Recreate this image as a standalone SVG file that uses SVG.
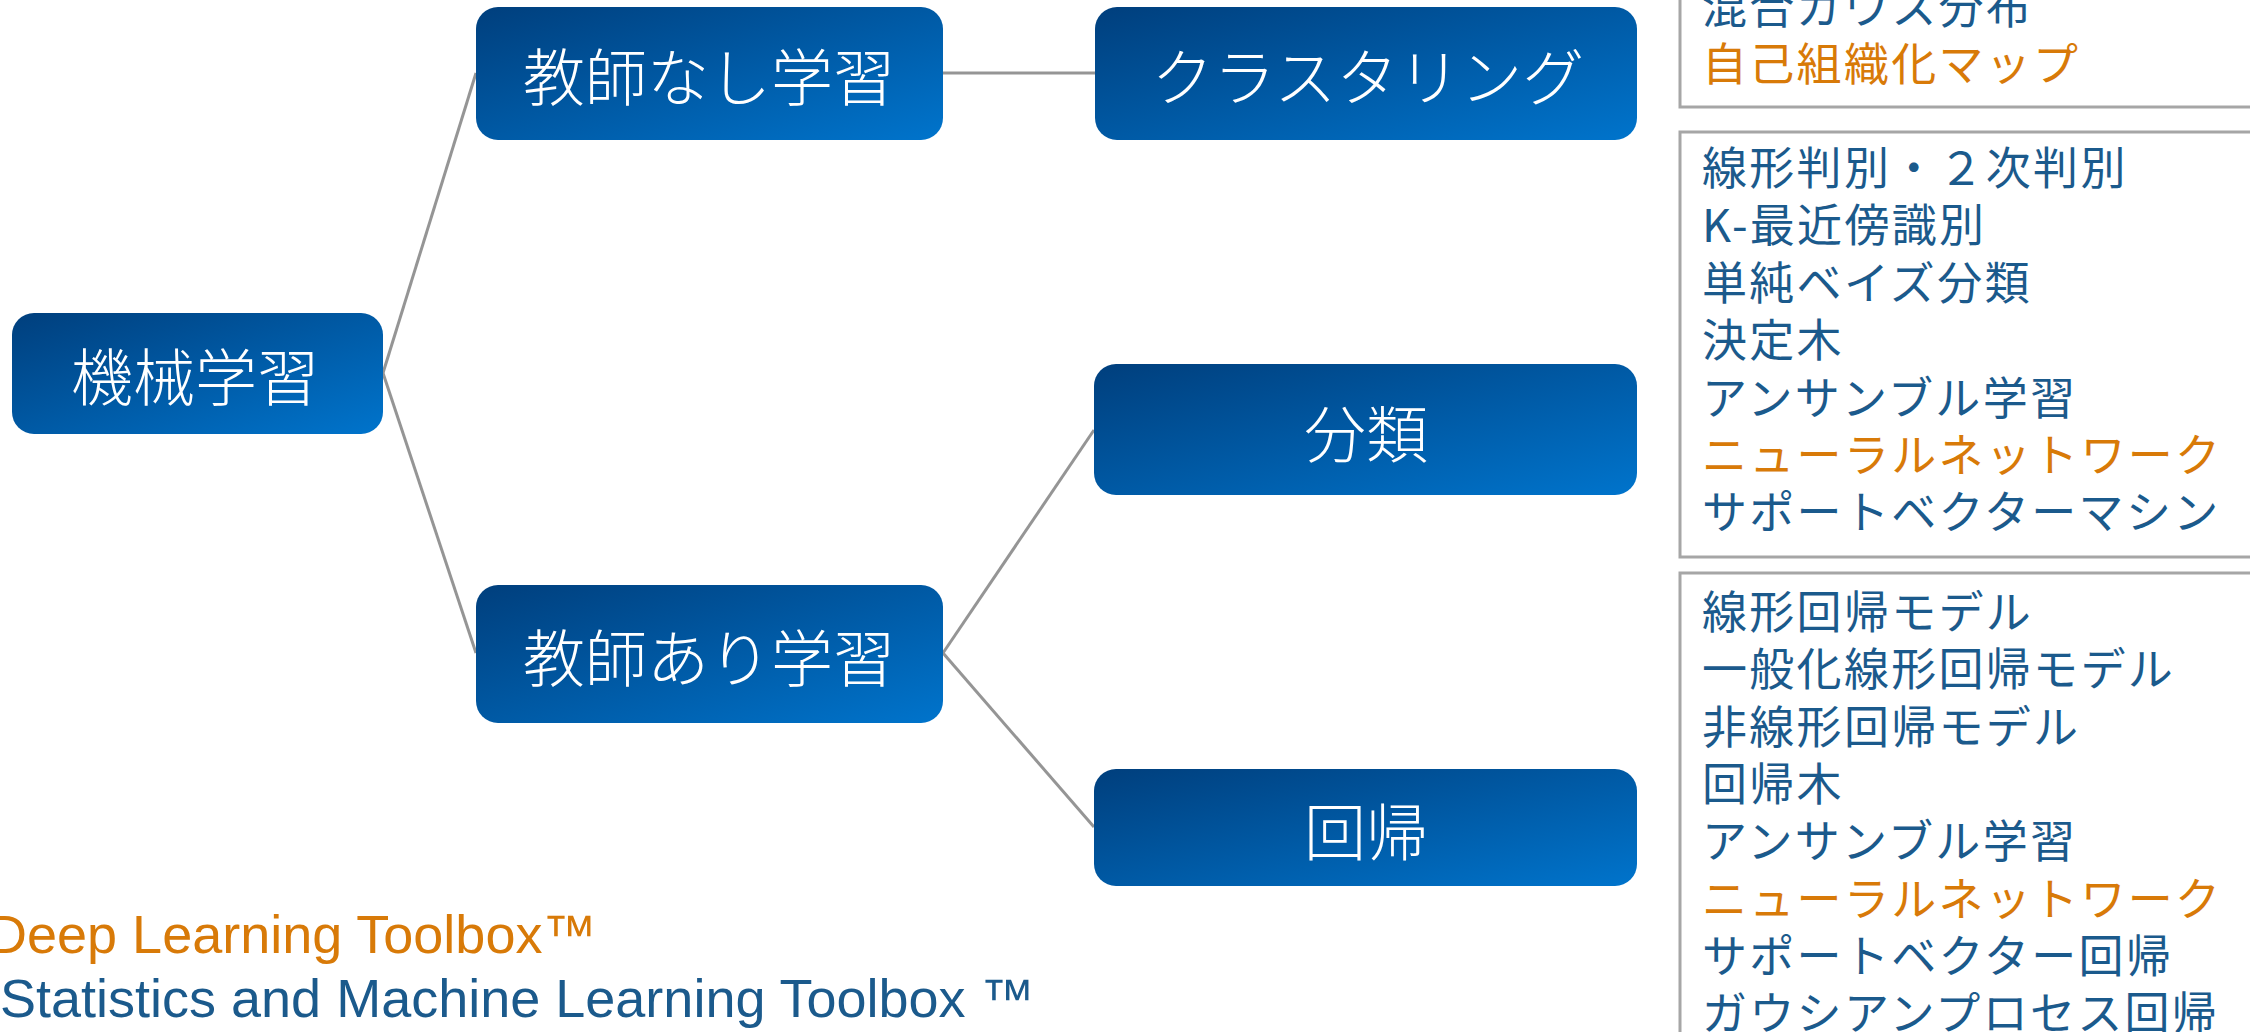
<svg xmlns="http://www.w3.org/2000/svg" width="2250" height="1032" viewBox="0 0 2250 1032">
  <defs>
    <linearGradient id="nodeGrad" x1="0" y1="0" x2="1" y2="1">
      <stop offset="0" stop-color="#003F7D"/>
      <stop offset="1" stop-color="#0074CC"/>
    </linearGradient>
    <style>
      .node rect { fill: url(#nodeGrad); }
      .node text { fill: #FFFFFF; font-family: "Noto Sans CJK JP", "Noto Sans", sans-serif; font-size: 62px; font-weight: 300; text-anchor: middle; dominant-baseline: central; }
      .conn { stroke: #959595; stroke-width: 3; fill: none; }
      .listbox { fill: #FFFFFF; stroke: #A6A6A6; stroke-width: 3; }
      .list { font-family: "Noto Sans CJK JP", "Noto Sans", sans-serif; font-size: 45px; letter-spacing: 2.3px; fill: #1B5A8C; }
      .hl { fill: #D87A08; }
      .legend { font-family: "Liberation Sans", "Noto Sans CJK JP", sans-serif; font-size: 54px; }
    </style>
  </defs>
  <rect x="0" y="0" width="2250" height="1032" fill="#FFFFFF"/>

  <g id="connectors">
    <path class="conn" d="M383,373 L476,73"/>
    <path class="conn" d="M383,373 L476,653"/>
    <path class="conn" d="M943,73 L1095,73"/>
    <path class="conn" d="M943,653 L1094,430"/>
    <path class="conn" d="M943,653 L1094,827"/>
  </g>

  <g id="node-ml" class="node">
    <rect x="12" y="313" width="371" height="121" rx="22"/>
    <text x="195" y="374">機械学習</text>
  </g>
  <g id="node-unsupervised" class="node">
    <rect x="476" y="7" width="467" height="133" rx="22"/>
    <text x="709" y="74">教師なし学習</text>
  </g>
  <g id="node-supervised" class="node">
    <rect x="476" y="585" width="467" height="138" rx="22"/>
    <text x="709" y="655">教師あり学習</text>
  </g>
  <g id="node-clustering" class="node">
    <rect x="1095" y="7" width="542" height="133" rx="22"/>
    <text x="1368" y="74">クラスタリング</text>
  </g>
  <g id="node-classification" class="node">
    <rect x="1094" y="364" width="543" height="131" rx="22"/>
    <text x="1366" y="431">分類</text>
  </g>
  <g id="node-regression" class="node">
    <rect x="1094" y="769" width="543" height="117" rx="22"/>
    <text x="1366" y="829">回帰</text>
  </g>

  <g id="list-clustering">
    <rect class="listbox" x="1680" y="-20" width="600" height="127"/>
    <text class="list" x="1702" y="24">混合ガウス分布</text>
    <text class="list hl" x="1702" y="81">自己組織化マップ</text>
  </g>
  <g id="list-classification">
    <rect class="listbox" x="1680" y="132" width="600" height="425"/>
    <text class="list" x="1702" y="185">線形判別・２次判別</text>
    <text class="list" x="1702" y="242">K-最近傍識別</text>
    <text class="list" x="1702" y="300">単純ベイズ分類</text>
    <text class="list" x="1702" y="357">決定木</text>
    <text class="list" x="1702" y="415">アンサンブル学習</text>
    <text class="list hl" x="1702" y="472">ニューラルネットワーク</text>
    <text class="list" x="1702" y="529">サポートベクターマシン</text>
  </g>
  <g id="list-regression">
    <rect class="listbox" x="1680" y="573" width="600" height="500"/>
    <text class="list" x="1702" y="629">線形回帰モデル</text>
    <text class="list" x="1702" y="686">一般化線形回帰モデル</text>
    <text class="list" x="1702" y="744">非線形回帰モデル</text>
    <text class="list" x="1702" y="801">回帰木</text>
    <text class="list" x="1702" y="858">アンサンブル学習</text>
    <text class="list hl" x="1702" y="916">ニューラルネットワーク</text>
    <text class="list" x="1702" y="973">サポートベクター回帰</text>
    <text class="list" x="1702" y="1030">ガウシアンプロセス回帰</text>
  </g>

  <g id="legend">
    <text class="legend" x="-12" y="953" fill="#D87A08">Deep Learning Toolbox™</text>
    <text class="legend" x="0" y="1017" fill="#1B5A8C">Statistics and Machine Learning Toolbox ™</text>
  </g>
</svg>
